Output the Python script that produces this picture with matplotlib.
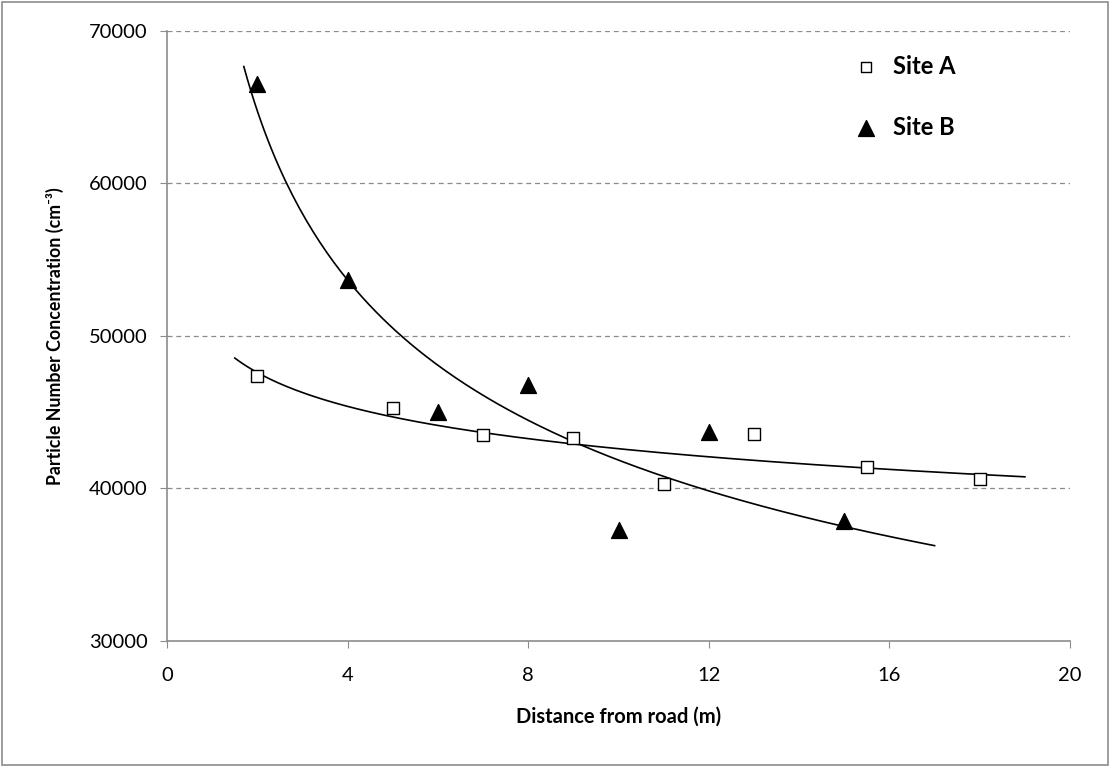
import numpy as np
import matplotlib.pyplot as plt

plt.rcParams['font.family'] = ['Lato', 'DejaVu Sans']

site_a_x = [2, 5, 7, 9, 11, 13, 15.5, 18]
site_a_y = [47400, 45300, 43500, 43300, 40300, 43600, 41400, 40600]
site_b_x = [2, 4, 6, 8, 10, 12, 15]
site_b_y = [66500, 53700, 45000, 46800, 37300, 43700, 37900]

x_ticks = [0, 4, 8, 12, 16, 20]
y_ticks = [30000, 40000, 50000, 60000, 70000]


def power_fit(x, y, x0, x1):
    # excel style power trendline
    b, ln_a = np.polyfit(np.log(x), np.log(y), 1)
    xs = np.linspace(x0, x1, 200)
    return xs, np.exp(ln_a) * xs ** b


fig = plt.figure(figsize=(11.1, 7.67), dpi=100)
ax = fig.add_axes([0.1505, 0.1643, 0.8135, 0.7953])

fig.patches.append(plt.Rectangle((0.002, 0.002), 0.996, 0.996, transform=fig.transFigure,
                                 fill=False, edgecolor='#8c8c8c', linewidth=1.2))

for yt in y_ticks[1:]:
    ax.axhline(yt, color='#8c8c8c', linestyle=(0, (4, 3)), linewidth=0.9, zorder=0)

xs, ys = power_fit(site_b_x, site_b_y, 1.7, 17)
ax.plot(xs, ys, color='black', linewidth=1.2, zorder=2)
xs, ys = power_fit(site_a_x, site_a_y, 1.5, 19)
ax.plot(xs, ys, color='black', linewidth=1.2, zorder=2)

ax.scatter(site_a_x, site_a_y, marker='s', s=80, facecolor='white', edgecolor='black',
           linewidth=1.0, zorder=3)
ax.scatter(site_b_x, site_b_y, marker='^', s=130, color='black', zorder=3)

ax.set_xlim(0, 20)
ax.set_ylim(30000, 70000)
ax.set_xticks(x_ticks)
ax.set_yticks(y_ticks)
ax.tick_params(direction='out', color='#8c8c8c', length=5, labelsize=14.5, pad=9)
ax.tick_params(axis='x', pad=14)
for s in ['top', 'right']:
    ax.spines[s].set_visible(False)
for s in ['left', 'bottom']:
    ax.spines[s].set_color('#8c8c8c')
    ax.spines[s].set_linewidth(1.2)

ax.set_xlabel('Distance from road (m)', fontsize=14.5, fontweight='bold', labelpad=16)
ax.set_ylabel('Particle Number Concentration (cm\u207b\u00b3)', fontsize=12.8,
              fontweight='bold', labelpad=18)

# legend
ax.scatter([15.48], [67650], marker='s', s=60, facecolor='white', edgecolor='black',
           linewidth=1.0, clip_on=False)
ax.text(16.08, 67650, 'Site A', fontsize=17, fontweight='bold', va='center')
ax.scatter([15.48], [63650], marker='^', s=130, color='black', clip_on=False)
ax.text(16.08, 63650, 'Site B', fontsize=17, fontweight='bold', va='center')

fig.savefig('out.png', dpi=100)
